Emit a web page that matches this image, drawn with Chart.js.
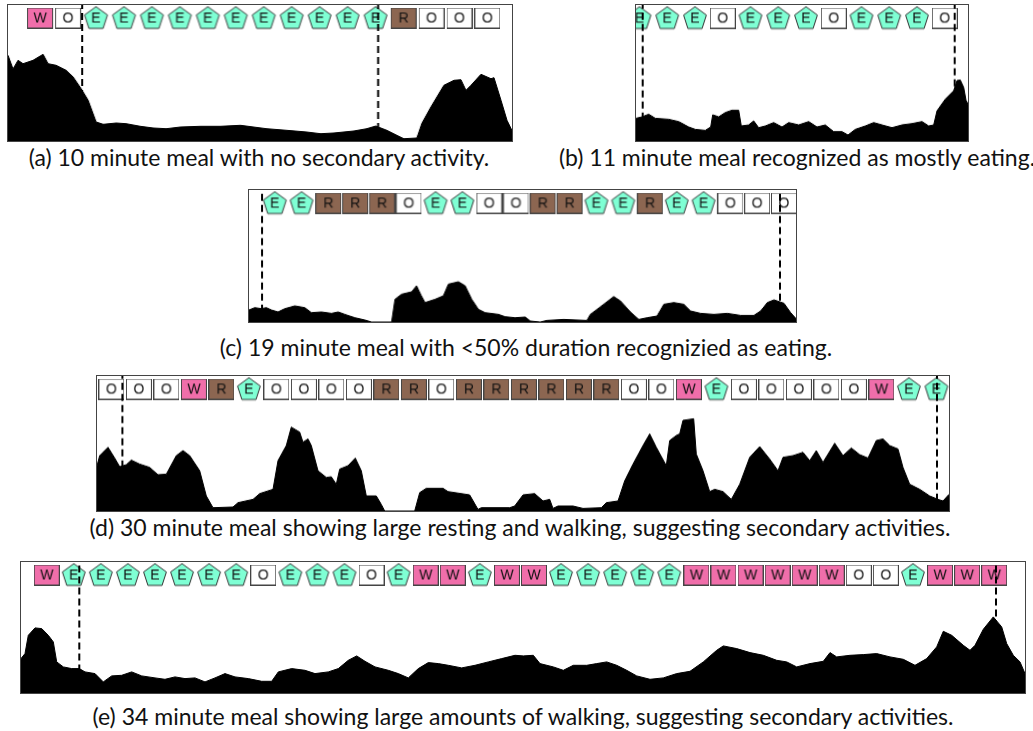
<!DOCTYPE html>
<html>
<head>
<meta charset="utf-8">
<script src="https://cdn.jsdelivr.net/npm/chart.js@4"></script>
<style>
  body { margin: 0; background: #fff; }
  .panel { position: absolute; border: 1px solid #444; }
  .panel canvas { display: block; }
  .cap { position: absolute; width: 1000px; text-align: center; font-family: Lato, "Noto Sans", sans-serif; font-size: 23px; line-height: 26px; color: #111; white-space: nowrap; }
</style>
</head>
<body>
<div class="panel" id="pa"><canvas id="ca"></canvas></div>
<div class="panel" id="pb"><canvas id="cb"></canvas></div>
<div class="panel" id="pc"><canvas id="cc"></canvas></div>
<div class="panel" id="pd"><canvas id="cd"></canvas></div>
<div class="panel" id="pe"><canvas id="ce"></canvas></div>
<div class="cap" style="left:-241px;top:144px">(a) 10 minute meal with no secondary activity.</div>
<div class="cap" style="left:297px;top:144px">(b) 11 minute meal recognized as mostly eating.</div>
<div class="cap" style="left:26px;top:334px">(c) 19 minute meal with &lt;50% duration recognizied as eating.</div>
<div class="cap" style="left:20px;top:514px">(d) 30 minute meal showing large resting and walking, suggesting secondary activities.</div>
<div class="cap" style="left:23px;top:703px">(e) 34 minute meal showing large amounts of walking, suggesting secondary activities.</div>
<script>
// activity traces: [time, level]
const traceA = [[0,85.7],[5,72],[10,80.7],[15,77.3],[25,80.7],[35,86.7],[40,77.3],[48,75.7],[58,70.7],[65,64],[73,52.3],[80,40.7],[88,19],[95,16.7],[108,18],[118,17.3],[132,14.7],[145,13],[158,12.3],[172,14],[192,14.7],[212,14.7],[232,15.7],[245,14],[258,12.3],[278,10.7],[298,9],[312,7.3],[325,8],[345,10],[358,12.3],[367,15],[378,10.7],[388,5.7],[395,2.3],[408,3],[413,17.7],[422,34],[435,55.7],[445,60.7],[452,61.3],[457,50.7],[462,55.7],[472,66.7],[482,62.3],[485,63.3],[492,40.7],[498,20.7],[503.7,9]];
const traceB = [[0,23.3],[6,24.7],[12.7,27.3],[19.3,23.3],[32.7,22.3],[42.7,20],[52.7,14.7],[59.3,12.3],[69.3,11.3],[74.7,14.7],[76.7,26.7],[82.7,24.7],[89.3,29],[96,31.3],[102.7,31.3],[105.3,15.7],[112.7,16.7],[117.7,20.7],[122.7,14],[129.3,15.7],[137.7,19],[146,14.7],[152.7,19],[162.7,16.7],[172.7,20],[181,14.7],[189.3,16.7],[197.7,10],[206,10],[212,6.7],[219.3,12.3],[229.3,15.7],[237.7,19],[246,16.7],[256,14],[266,16.7],[276,18],[286,20],[292.7,15.7],[297.7,16.7],[301,30.7],[309.3,42.3],[317.7,50.7],[321,60.7],[324.3,61.3],[327.7,54],[330,41.3],[332,37.3]];
const traceC = [[0,12.7],[5.7,15],[12.3,14],[17.3,15],[22.3,12.7],[29,10.7],[35.7,14],[45.7,16.7],[55.7,15],[62.3,10],[72.3,10.7],[82.3,9.3],[89,10.7],[95.7,8.3],[105.7,5],[115.7,2.7],[122.3,0.7],[142.3,0.7],[145.7,23.3],[152.3,28.3],[162.3,30.7],[167.3,36.7],[171.7,27.3],[175.7,20],[185.7,23.3],[194,26.7],[199,38.3],[209,40.7],[215.7,36.7],[222.3,23.3],[229,13.3],[235.7,10],[249,8.3],[255.7,6],[265.7,5],[275.7,5.7],[280.7,1.7],[290.7,0.7],[297.3,2.3],[314,3.3],[337.3,2.3],[340.7,8.3],[354,18.3],[364,26],[370.7,21.7],[380.7,10.7],[389,3.3],[397.3,5],[407.3,6.7],[414,18.3],[424,20],[434,18.3],[440.7,11.7],[450.7,9.3],[464,8.3],[477.3,9.3],[490.7,7.3],[504,7.3],[510.7,11.7],[517.3,20],[524,22.7],[534,19.3],[540.7,10],[546.7,3.3]];
const traceD = [[0,45.7],[2.7,55.7],[11,64],[17.7,53.3],[22.7,44.7],[29.3,46.7],[34.3,51.3],[42.7,47.3],[52.7,44],[61,36.7],[69.3,37.3],[79.3,55.7],[86,60.7],[92.7,55.7],[102.7,40.7],[109.3,15.7],[116,4],[136,4.7],[141,9],[156,12.3],[162.7,18],[176,22.3],[181,50.7],[189.3,65.7],[194.3,84],[202.7,79],[206,69],[211,72.3],[214.3,65.7],[221,40.7],[229.3,34],[234.3,34.7],[239.3,27.3],[242.7,42.3],[251,45.7],[258.3,53.3],[264.3,40.7],[269.3,15.7],[279.3,15.7],[284.3,7.3],[287.7,0.7],[317.7,0.7],[322.7,19],[329.3,23.3],[346,23.3],[351,20],[372.7,16.7],[381,2.3],[384.3,4],[412.7,4],[417.7,5.7],[426,16.7],[437.7,18],[446,10.7],[452.7,12.3],[456,3.3],[461,5.7],[476,5.7],[486,3.3],[504.3,4],[509.3,9],[521,10.7],[527.7,30.7],[536,47.3],[546,65.7],[552.7,77.3],[559.3,64],[569.3,45.7],[572.7,70.7],[579.3,75.7],[582.7,77.3],[586,90.7],[596.7,92.3],[599.3,57.3],[606,40.7],[612.7,20],[617.7,22.3],[626,20],[634.3,12.3],[642.7,27.3],[652.7,54],[662.7,64.7],[672.7,52.3],[681,40.7],[686,54],[696,55.7],[706,59],[712.7,50.7],[719.3,60.7],[726,49],[737.7,68],[746,55.7],[754.3,63.3],[762.7,56.7],[771,53.3],[779.3,70.7],[786,72.3],[792.7,65.7],[801,62.3],[806,44],[812.7,27.3],[822.7,22.3],[832.7,15.7],[841,12.3],[846,10.7],[852,17.3]];
const traceE = [[0,35],[4,40],[7.3,58.3],[14,65.7],[20.7,65],[27.3,58.3],[32.3,51.7],[35.7,31.7],[42.3,26.7],[50.7,25],[58.3,25],[64,21.7],[74,20],[82.3,11.7],[90.7,17.7],[100.7,18.3],[110.7,21.7],[120.7,17.7],[134,15.7],[144,14.3],[154,16.7],[164,15],[174,15.7],[184,11.7],[194,15.7],[204,20],[214,16.7],[227.3,15],[240.7,12.3],[250.7,12.3],[257.3,21.7],[270.7,25],[284,23.3],[294,20],[307.3,21.7],[317.3,25],[327.3,33.3],[335.7,37.7],[344,32.3],[354,26.7],[367.3,23.3],[377.3,20],[387.3,15.7],[397.3,25],[407.3,31],[417.3,30],[427.3,28.3],[440.7,25.7],[454,28.3],[467.3,31.7],[480.7,35],[494,38.3],[502.3,37.7],[512.3,38.3],[519,30],[532.3,26.7],[542.3,23.3],[552.3,28.3],[565.7,28.3],[575.7,30],[585.7,31.7],[595.7,28.3],[605.7,23.3],[615.7,17.7],[629,14.3],[642.3,15.7],[655.7,20],[669,22.3],[682.3,31.7],[695.7,43.3],[702.3,47.7],[715.7,45],[729,41],[742.3,38.3],[755.7,33.3],[765.7,31.7],[775.7,26.7],[789,30],[802.3,32.3],[809,41],[815.7,36.7],[829,38.3],[842.3,39],[855.7,40],[869,36.7],[882.3,34.3],[894,28.3],[905.7,35],[915.7,46.7],[922.3,62.3],[930.7,58.3],[942.3,48.3],[949,43.3],[954,48.3],[962.3,64.3],[972.3,76.7],[980.7,66.7],[985.7,50],[992.3,38.3],[999,31.7],[1004,20]];

// recognized activity per window (W walk, O other, E eat, R rest)
const marksA = "WOEEEEEEEEEEEROOO";
const marksB = "EEEOEEEOEEEO";
const marksC = "EERRROEEOORREEREEOOO";
const marksD = "OOOWREOOOORRORRRRRROOWEOOOOOWEE";
const marksE = "WEEEEEEEOEEEOEWWEWWEEEEEWWWWWWOOEWWW";

// meal start / end
const cutsA = [74, 369.4];
const cutsB = [6.7, 318.7];
const cutsC = [13, 530];
const cutsD = [25.4, 840];
const cutsE = [58.3, 975];

const fills = { W: "#f06eaa", O: "#ffffff", R: "#8c6651", E: "#7fffd4" };
function makeMark(letter) {
  const c = document.createElement("canvas");
  const ctx = c.getContext("2d");
  if (letter === "E") {
    c.width = 26; c.height = 25;
    const cx = 13, cy = 13.2, r = 12;
    ctx.beginPath();
    for (let k = 0; k < 5; k++) {
      const a = -Math.PI / 2 + k * 2 * Math.PI / 5;
      const px = cx + r * Math.cos(a), py = cy + r * Math.sin(a);
      k ? ctx.lineTo(px, py) : ctx.moveTo(px, py);
    }
    ctx.closePath();
    ctx.fillStyle = fills.E; ctx.fill();
    ctx.strokeStyle = "#333"; ctx.lineWidth = 1; ctx.stroke();
  } else {
    c.width = 26; c.height = 21;
    ctx.fillStyle = fills[letter];
    ctx.fillRect(0.5, 0.5, 25, 20);
    ctx.strokeStyle = "#444"; ctx.lineWidth = 1;
    ctx.strokeRect(0.5, 0.5, 25, 20);
  }
  ctx.fillStyle = "#111";
  ctx.font = '14px "Liberation Sans", sans-serif';
  ctx.textAlign = "center"; ctx.textBaseline = "middle";
  ctx.fillText(letter, c.width / 2, c.height / 2 + 1);
  return c;
}
const markImgs = { W: makeMark("W"), O: makeMark("O"), R: makeMark("R"), E: makeMark("E") };

const panels = [
  { id: "a", box: [8.3, 5, 512, 141], trace: traceA, marks: marksA, first: 32, step: 27.9, cuts: cutsA },
  { id: "b", box: [635.7, 5, 967.7, 140.7], trace: traceB, marks: marksB, first: 3.5, step: 27.75, cuts: cutsB },
  { id: "c", box: [249.3, 190, 796, 321.7], trace: traceC, marks: marksC, first: 25.7, step: 26.75, cuts: cutsC },
  { id: "d", box: [97.3, 376, 949.3, 510.7], trace: traceD, marks: marksD, first: 14.4, step: 27.5, cuts: cutsD },
  { id: "e", box: [21, 561.7, 1025, 693.3], trace: traceE, marks: marksE, first: 25.7, step: 27.07, cuts: cutsE }
];

panels.forEach(p => {
  const [L, T, R, B] = p.box;
  const W = R - L, H = B - T;
  const wrap = document.getElementById("p" + p.id);
  wrap.style.left = (L - 1) + "px"; wrap.style.top = (T - 1) + "px";
  wrap.style.width = W + "px"; wrap.style.height = H + "px";

  const markY = H - 13;
  const markPts = p.marks.split("").map((m, i) => ({ x: p.first + i * p.step, y: markY }));
  const datasets = [];
  p.cuts.forEach(cx => datasets.push({
    type: "line", data: [{ x: cx, y: 0 }, { x: cx, y: H }],
    borderColor: "#000", borderWidth: 2, borderDash: [7, 4], pointRadius: 0, fill: false, order: 0
  }));
  datasets.push({
    type: "scatter", data: markPts, order: 1,
    pointStyle: ctx => markImgs[p.marks[ctx.dataIndex]], pointRadius: 12, pointHoverRadius: 12
  });
  datasets.push({
    type: "line", data: p.trace.map(([x, y]) => ({ x, y })), order: 2,
    borderColor: "#000", backgroundColor: "#000", borderWidth: 1, pointRadius: 0, fill: "origin", tension: 0
  });

  new Chart(document.getElementById("c" + p.id), {
    type: "line",
    data: { datasets },
    options: {
      responsive: true, maintainAspectRatio: false, animation: false,
      layout: { padding: 0, autoPadding: false },
      events: [],
      scales: {
        x: { type: "linear", display: false, min: 0, max: W },
        y: { display: false, min: 0, max: H }
      },
      plugins: { legend: { display: false }, tooltip: { enabled: false } }
    }
  });
});
</script>
</body>
</html>
